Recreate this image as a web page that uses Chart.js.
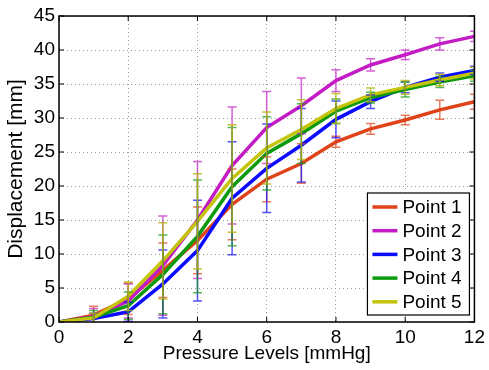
<!DOCTYPE html>
<html>
<head>
<meta charset="utf-8">
<script src="https://cdn.jsdelivr.net/npm/chart.js@4/dist/chart.umd.min.js"></script>
<style>
  body { margin: 0; background: #fff; }
  canvas { display: block; }
</style>
</head>
<body>
<canvas id="myChart" width="489" height="370"></canvas>
<script>
// Druckstufen (x) und Verschiebung pro Messpunkt (y), mit Fehlerbalken
const pressure = [0, 1, 2, 3, 4, 5, 6, 7, 8, 9, 10, 11, 12];
const seriesNames = ['Point 1', 'Point 2', 'Point 3', 'Point 4', 'Point 5'];

const point1 = [0, 1.0, 3.4, 7.6, 12.0, 17.3, 21.0, 23.3, 26.5, 28.4, 29.7, 31.2, 32.4];
const point2 = [0, 0.8, 3.1, 8.3, 15.0, 23.0, 28.6, 31.8, 35.5, 37.8, 39.3, 40.9, 42.0];
const point3 = [0, 0.5, 1.5, 5.6, 10.5, 18.2, 22.6, 26.0, 29.8, 32.4, 34.5, 36.0, 37.0];
const point4 = [0, 0.7, 2.4, 7.0, 12.6, 19.9, 24.8, 27.7, 31.0, 33.0, 34.2, 35.3, 36.2];
const point5 = [0, 0.6, 3.8, 9.0, 14.8, 21.1, 25.6, 28.3, 31.4, 33.4, 34.5, 35.6, 36.6];

const err1 = [0, 1.3, 2.3, 4.0, 4.9, 5.2, 3.3, 2.9, 0.8, 0.8, 0.7, 1.4, 1.1];
const err2 = [0, 1.2, 2.5, 7.3, 8.6, 8.6, 5.3, 4.1, 1.6, 0.9, 0.7, 0.9, 0.75];
const err3 = [0, 0.8, 1.4, 5.0, 7.4, 8.3, 6.5, 5.4, 2.7, 1.0, 0.8, 0.6, 0.6];
const err4 = [0, 1.0, 2.0, 5.8, 8.3, 8.7, 5.4, 4.4, 1.8, 0.8, 1.1, 0.8, 0.8];
const err5 = [0, 0.7, 2.1, 5.6, 7.0, 7.9, 5.3, 4.4, 2.2, 1.0, 1.0, 0.85, 0.85];

const xTicks = [0, 2, 4, 6, 8, 10, 12];
const yTicks = [0, 5, 10, 15, 20, 25, 30, 35, 40, 45];

const values = [point1, point2, point3, point4, point5];
const errors = [err1, err2, err3, err4, err5];
const colors = ['#e0421a', '#c41cc4', '#0b0bff', '#0e9a0e', '#c4c40c'];
const errColors = ['rgba(224,66,26,0.7)', 'rgba(196,28,196,0.7)', 'rgba(11,11,255,0.7)',
                   'rgba(14,154,14,0.7)', 'rgba(180,180,12,0.8)'];

const FONT = '"Liberation Sans", Arial, Helvetica, sans-serif';

// Fehlerbalken nach den Linien zeichnen (auf den Plotbereich beschnitten)
const errorBars = {
  id: 'errorBars',
  afterDatasetsDraw(chart) {
    const ctx = chart.ctx;
    const a = chart.chartArea;
    const xs = chart.scales.x, ys = chart.scales.y;
    ctx.save();
    ctx.beginPath();
    ctx.rect(a.left, a.top, a.right - a.left, a.bottom - a.top);
    ctx.clip();
    ctx.lineWidth = 1.5;
    for (let s = 0; s < values.length; s++) {
      ctx.strokeStyle = errColors[s];
      for (let i = 0; i < pressure.length; i++) {
        const e = errors[s][i];
        if (!e) continue;
        const px = xs.getPixelForValue(pressure[i]);
        const top = ys.getPixelForValue(values[s][i] + e);
        const bot = ys.getPixelForValue(values[s][i] - e);
        ctx.beginPath();
        ctx.moveTo(px, top); ctx.lineTo(px, bot);
        ctx.moveTo(px - 4.5, top); ctx.lineTo(px + 4.5, top);
        ctx.moveTo(px - 4.5, bot); ctx.lineTo(px + 4.5, bot);
        ctx.stroke();
      }
    }
    ctx.restore();
  }
};

// Rahmen, Tick-Striche nach innen und Legende im Plot
const boxAndLegend = {
  id: 'boxAndLegend',
  afterDraw(chart) {
    const ctx = chart.ctx;
    const a = chart.chartArea;
    const xs = chart.scales.x, ys = chart.scales.y;
    ctx.save();
    ctx.strokeStyle = '#000';
    ctx.lineWidth = 1.5;
    ctx.strokeRect(a.left, a.top, a.right - a.left, a.bottom - a.top);
    ctx.lineWidth = 1;
    ctx.beginPath();
    xTicks.forEach(v => {
      const p = xs.getPixelForValue(v);
      ctx.moveTo(p, a.bottom); ctx.lineTo(p, a.bottom - 5);
      ctx.moveTo(p, a.top); ctx.lineTo(p, a.top + 5);
    });
    yTicks.forEach(v => {
      const p = ys.getPixelForValue(v);
      ctx.moveTo(a.left, p); ctx.lineTo(a.left + 5, p);
      ctx.moveTo(a.right, p); ctx.lineTo(a.right - 5, p);
    });
    ctx.stroke();

    // Legende
    const lw = 102, lh = 122;
    const lx = a.right - 5 - lw, ly = a.bottom - 7 - lh;
    ctx.fillStyle = '#fff';
    ctx.fillRect(lx, ly, lw, lh);
    ctx.lineWidth = 1.2;
    ctx.strokeStyle = '#000';
    ctx.strokeRect(lx, ly, lw, lh);
    ctx.font = '19px ' + FONT;
    ctx.textBaseline = 'middle';
    ctx.textAlign = 'left';
    for (let s = 0; s < seriesNames.length; s++) {
      const cy = ly + 14 + s * 23.7;
      ctx.strokeStyle = colors[s];
      ctx.lineWidth = 3.5;
      ctx.beginPath();
      ctx.moveTo(lx + 5, cy); ctx.lineTo(lx + 30, cy);
      ctx.stroke();
      ctx.fillStyle = '#000';
      ctx.fillText(seriesNames[s], lx + 35, cy + 1);
    }
    ctx.restore();
  }
};

const datasets = values.map((v, s) => ({
  label: seriesNames[s],
  data: pressure.map((x, i) => ({ x: x, y: v[i] })),
  borderColor: colors[s],
  backgroundColor: colors[s],
  borderWidth: 3.5,
  pointRadius: 0,
  tension: 0,
  fill: false,
  order: values.length - s
}));

new Chart(document.getElementById('myChart'), {
  type: 'line',
  data: { datasets: datasets },
  options: {
    responsive: false,
    animation: false,
    layout: { padding: { top: 16, right: 14, left: 0, bottom: 0 } },
    plugins: { legend: { display: false }, tooltip: { enabled: false } },
    scales: {
      x: {
        type: 'linear', min: 0, max: 12,
        afterBuildTicks: s => { s.ticks = xTicks.map(v => ({ value: v })); },
        afterFit: s => { s.height = 48; },
        grid: { color: '#9a9a9a', lineWidth: 1, drawTicks: false },
        border: { display: false, dash: [1, 3] },
        ticks: { color: '#000', padding: 4, maxRotation: 0, font: { size: 19, family: FONT } },
        title: { display: true, text: 'Pressure Levels [mmHg]', color: '#000',
                 font: { size: 19, family: FONT }, padding: { top: 0, bottom: 5 } }
      },
      y: {
        min: 0, max: 45,
        afterBuildTicks: s => { s.ticks = yTicks.map(v => ({ value: v })); },
        afterFit: s => { s.width = 59; },
        grid: { color: '#9a9a9a', lineWidth: 1, drawTicks: false },
        border: { display: false, dash: [1, 3] },
        ticks: { color: '#000', padding: 4, font: { size: 19, family: FONT } },
        title: { display: true, text: 'Displacement [mm]', color: '#000',
                 font: { size: 21, family: FONT }, padding: { top: 4, bottom: 0 } }
      }
    }
  },
  plugins: [errorBars, boxAndLegend]
});
</script>
</body>
</html>
